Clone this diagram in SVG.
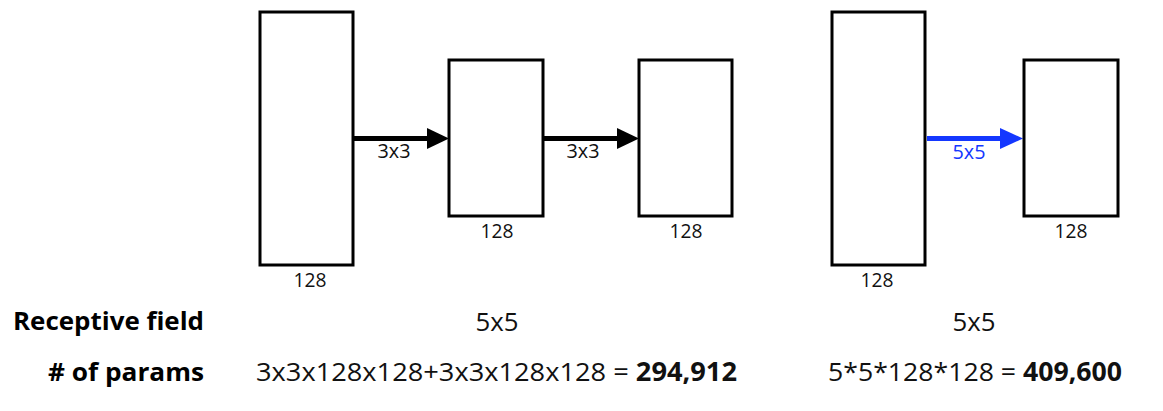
<svg xmlns="http://www.w3.org/2000/svg" width="1163" height="411" viewBox="0 0 1163 411">
<style>
.box{fill:#fff;stroke:#000;stroke-width:3}
.t{font-family:"Open Sans","Noto Sans","Liberation Sans",sans-serif;fill:#111;text-anchor:middle}
.s{font-size:20.5px}
.b{font-size:26px}
.lbl{font-family:"Open Sans","Noto Sans","Liberation Sans",sans-serif;font-size:25.5px;font-weight:bold;fill:#000;text-anchor:end}
.bold{font-weight:bold}
</style>
<defs>
<marker id="hk" markerUnits="userSpaceOnUse" markerWidth="22" markerHeight="22" refX="0" refY="10.5" orient="auto" overflow="visible"><path d="M0,0 L22,10.5 L0,21 z" fill="#000"/></marker>
<marker id="hb" markerUnits="userSpaceOnUse" markerWidth="23" markerHeight="22" refX="0" refY="10.5" orient="auto" overflow="visible"><path d="M0,0 L23,10.5 L0,21 z" fill="#1437ff"/></marker>
</defs>
<rect width="1163" height="411" fill="#fff"/>
<g id="connectors">
<line x1="353" y1="138.5" x2="427" y2="138.5" stroke="#000" stroke-width="5" marker-end="url(#hk)"/>
<line x1="543" y1="138.5" x2="617" y2="138.5" stroke="#000" stroke-width="5" marker-end="url(#hk)"/>
<line x1="927" y1="138.5" x2="1000" y2="138.5" stroke="#1437ff" stroke-width="5" marker-end="url(#hb)"/>
<text class="t s" x="394" y="158" textLength="33" lengthAdjust="spacingAndGlyphs">3x3</text>
<text class="t s" x="583" y="158" textLength="33" lengthAdjust="spacingAndGlyphs">3x3</text>
<text class="t s" x="969" y="159" textLength="33" lengthAdjust="spacingAndGlyphs" style="fill:#1437ff">5x5</text>
</g>
<g id="n1"><rect class="box" x="260" y="12" width="93" height="253"/><text class="t s" x="310" y="287" textLength="33" lengthAdjust="spacingAndGlyphs">128</text></g>
<g id="n2"><rect class="box" x="449" y="60" width="94" height="156"/><text class="t s" x="497" y="238" textLength="33" lengthAdjust="spacingAndGlyphs">128</text></g>
<g id="n3"><rect class="box" x="639" y="60" width="93" height="156"/><text class="t s" x="686" y="238" textLength="33" lengthAdjust="spacingAndGlyphs">128</text></g>
<g id="n4"><rect class="box" x="832" y="12" width="93" height="253"/><text class="t s" x="877" y="287" textLength="33" lengthAdjust="spacingAndGlyphs">128</text></g>
<g id="n5"><rect class="box" x="1024" y="60" width="94" height="156"/><text class="t s" x="1071" y="238" textLength="33" lengthAdjust="spacingAndGlyphs">128</text></g>
<g id="table">
<text class="lbl" x="204" y="330" textLength="191" lengthAdjust="spacingAndGlyphs">Receptive field</text>
<text class="lbl" x="204" y="381" textLength="156" lengthAdjust="spacingAndGlyphs"># of params</text>
<text class="t b" x="497" y="331" textLength="43" lengthAdjust="spacingAndGlyphs">5x5</text>
<text class="t b" x="974" y="331" textLength="43" lengthAdjust="spacingAndGlyphs">5x5</text>
<text class="t b" x="496.5" y="381" textLength="481" lengthAdjust="spacingAndGlyphs">3x3x128x128+3x3x128x128 = <tspan class="bold">294,912</tspan></text>
<text class="t b" x="975" y="381" textLength="294" lengthAdjust="spacingAndGlyphs">5*5*128*128 = <tspan class="bold">409,600</tspan></text>
</g>
</svg>
